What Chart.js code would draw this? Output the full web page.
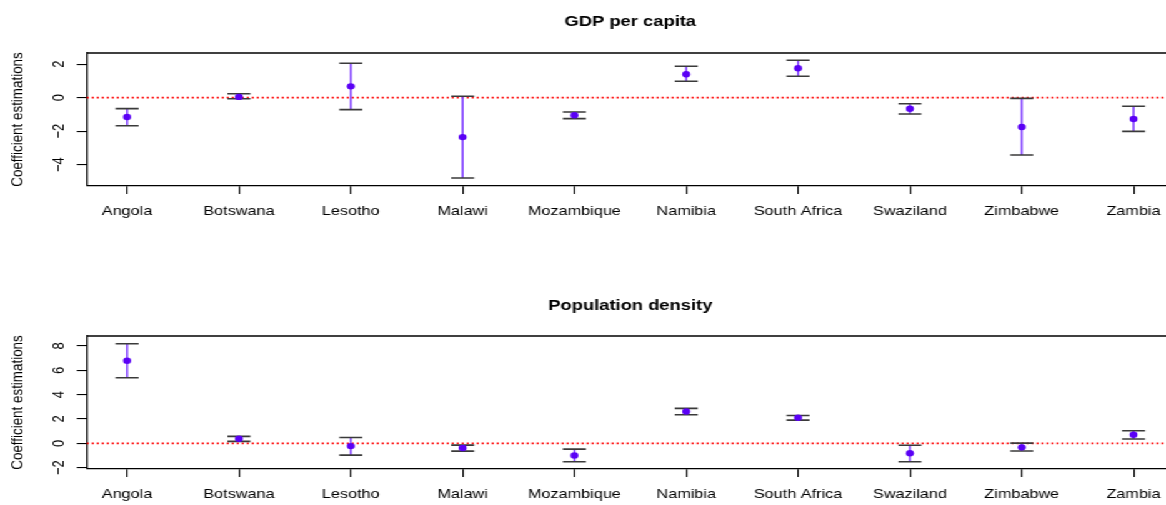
<!DOCTYPE html>
<html lang="en">
  <head>
    <meta charset="UTF-8" />
    <title>Coefficient estimations</title>
    <script src="https://cdn.jsdelivr.net/npm/chart.js"></script>
    <style>
      html,
      body {
        margin: 0;
        padding: 0;
        background: #fff;
        overflow: hidden;
      }
      /* the original R plot is stretched sideways, so draw narrow and stretch it too */
      #wrap {
        width: 933px;
        height: 566px;
        transform: scaleX(1.2497);
        transform-origin: 0 0;
      }
      .panel {
        position: relative;
        width: 933px;
        height: 283px;
      }
    </style>
  </head>
  <body>
    <div id="wrap">
      <div class="panel"><canvas id="gdpChart"></canvas></div>
      <div class="panel"><canvas id="popChart"></canvas></div>
    </div>
    <script>
      const countries = [
        "Angola", "Botswana", "Lesotho", "Malawi", "Mozambique",
        "Namibia", "South Africa", "Swaziland", "Zimbabwe", "Zambia",
      ];

      // GDP per capita
      const gdpEst = [-1.16, 0.04, 0.67, -2.36, -1.06, 1.39, 1.75, -0.67, -1.76, -1.28];
      const gdpLower = [-1.68, -0.07, -0.72, -4.8, -1.26, 0.97, 1.27, -0.98, -3.43, -2.02];
      const gdpUpper = [-0.66, 0.23, 2.05, 0.08, -0.86, 1.87, 2.23, -0.37, -0.05, -0.52];
      const gdpRange = [-5.28, 2.66];

      // Population density
      const popEst = [6.78, 0.38, -0.23, -0.39, -1.0, 2.62, 2.1, -0.82, -0.33, 0.71];
      const popLower = [5.39, 0.16, -0.97, -0.64, -1.52, 2.35, 1.91, -1.51, -0.63, 0.35];
      const popUpper = [8.18, 0.57, 0.48, -0.15, -0.48, 2.87, 2.29, -0.16, 0.02, 1.03];
      const popRange = [-2.11, 8.82];

      const yTitle = "Coefficient estimations";
      const FONT = '"Liberation Sans", Arial, sans-serif';

      // error bars + zero line + box + labels drawn with the chart's own scales
      const panelPlugin = {
        id: "panel",
        beforeDatasetsDraw(chart, args, opts) {
          const { ctx, chartArea, scales } = chart;
          const x = scales.x;
          const y = scales.y;
          ctx.save();
          // red dotted zero line
          ctx.strokeStyle = "#ff0000";
          ctx.lineWidth = 1.7;
          ctx.setLineDash([1.6, 2.4]);
          ctx.beginPath();
          ctx.moveTo(chartArea.left, y.getPixelForValue(0));
          ctx.lineTo(chartArea.right, y.getPixelForValue(0));
          ctx.stroke();
          ctx.setLineDash([]);

          opts.est.forEach((v, i) => {
            const px = x.getPixelForValue(i + 1);
            const lo = y.getPixelForValue(opts.lower[i]);
            const hi = y.getPixelForValue(opts.upper[i]);
            ctx.strokeStyle = "#7a35ff";
            ctx.lineWidth = 1.5;
            ctx.beginPath();
            ctx.moveTo(px, lo);
            ctx.lineTo(px, hi);
            ctx.stroke();
            ctx.strokeStyle = "#3a3a3a";
            ctx.lineWidth = 1.6;
            ctx.beginPath();
            ctx.moveTo(px - 9.2, lo);
            ctx.lineTo(px + 9.2, lo);
            ctx.moveTo(px - 9.2, hi);
            ctx.lineTo(px + 9.2, hi);
            ctx.stroke();
          });
          ctx.restore();
        },
        afterDraw(chart, args, opts) {
          const { ctx, chartArea, scales } = chart;
          const x = scales.x;
          const y = scales.y;
          ctx.save();
          // top of the box
          ctx.strokeStyle = "#000";
          ctx.lineWidth = 1.3;
          ctx.beginPath();
          ctx.moveTo(chartArea.left, chartArea.top);
          ctx.lineTo(chartArea.right, chartArea.top);
          ctx.stroke();

          ctx.fillStyle = "#000";
          ctx.font = "13px " + FONT;
          ctx.textAlign = "center";

          // country names under the x ticks
          ctx.textBaseline = "top";
          x.ticks.forEach((t) => {
            const name = countries[t.value - 1];
            if (name) ctx.fillText(name, x.getPixelForValue(t.value), chartArea.bottom + 19);
          });

          // y tick labels, turned like R does
          ctx.textBaseline = "middle";
          y.ticks.forEach((t) => {
            const py = y.getPixelForValue(t.value);
            ctx.save();
            ctx.translate(47.6, py);
            ctx.rotate(-Math.PI / 2);
            ctx.fillText(String(t.value).replace("-", "\u2212"), 0, 0);
            ctx.restore();
          });

          // y axis title
          ctx.save();
          ctx.font = "13.4px " + FONT;
          ctx.translate(14.8, (chartArea.top + chartArea.bottom) / 2);
          ctx.rotate(-Math.PI / 2);
          ctx.fillText(yTitle, 0, 0);
          ctx.restore();

          // panel title
          ctx.font = "bold 14.7px " + FONT;
          ctx.textBaseline = "alphabetic";
          ctx.fillText(opts.title, x.getPixelForValue(5.5), opts.titleY);
          ctx.restore();
        },
      };

      function makePanel(id, title, titleY, est, lower, upper, range) {
        const ctx = document.getElementById(id).getContext("2d");
        return new Chart(ctx, {
          type: "scatter",
          data: {
            datasets: [
              {
                data: est.map((v, i) => ({ x: i + 1, y: v })),
                backgroundColor: "#5a00f5",
                borderWidth: 0,
                pointRadius: 3.2,
              },
            ],
          },
          options: {
            responsive: true,
            maintainAspectRatio: false,
            animation: false,
            layout: { autoPadding: false, padding: { top: 53, left: 0, right: 0, bottom: 0 } },
            plugins: {
              legend: { display: false },
              tooltip: { enabled: false },
              panel: { title, titleY, est, lower, upper },
            },
            scales: {
              x: {
                type: "linear",
                min: 0.64,
                max: 10.29,
                border: { display: true, color: "#000", width: 1.3 },
                grid: { drawOnChartArea: false, drawTicks: true, tickLength: 8, color: "#000", lineWidth: 1.1 },
                ticks: { stepSize: 1, includeBounds: false, autoSkip: false, display: false },
                afterFit: (s) => {
                  s.height = 97;
                },
              },
              y: {
                min: range[0],
                max: range[1],
                border: { display: true, color: "#000", width: 1.3 },
                grid: { drawOnChartArea: false, drawTicks: true, tickLength: 8, color: "#000", lineWidth: 1.1 },
                ticks: { stepSize: 2, includeBounds: false, display: false },
                afterFit: (s) => {
                  s.width = 69.5;
                },
              },
            },
          },
          plugins: [panelPlugin],
        });
      }

      makePanel("gdpChart", "GDP per capita", 26, gdpEst, gdpLower, gdpUpper, gdpRange);
      makePanel("popChart", "Population density", 27, popEst, popLower, popUpper, popRange);
    </script>
  </body>
</html>
